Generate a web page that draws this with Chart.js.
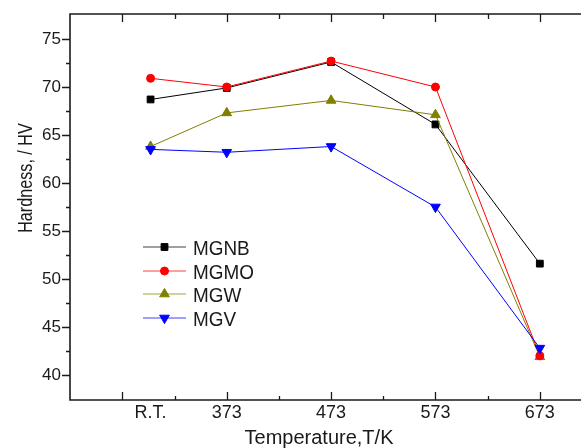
<!DOCTYPE html>
<html>
<head>
<meta charset="utf-8">
<title>Hardness vs temperature</title>
<script src="https://cdn.jsdelivr.net/npm/chart.js@4.4.1/dist/chart.umd.min.js"></script>
<style>
  html, body { margin: 0; padding: 0; overflow: hidden; background: #fff; }
  #wrap { width: 581px; height: 448px; overflow: hidden; }
  canvas { display: block; }
</style>
</head>
<body>
<div id="wrap"><canvas id="hardnessChart" width="620" height="470"></canvas></div>
<script>
// test temperatures in K, room temperature sits near 300 K
var temps = [300, 373, 473, 573, 673];
var tempLabels = ['R.T.', '373', '473', '573', '673'];
var hvTicks = [40, 45, 50, 55, 60, 65, 70, 75];

// Vickers hardness per alloy
var mgnb = [68.7, 69.9, 72.6, 66.1, 51.6];
var mgmo = [70.9, 70.0, 72.7, 70.0, 42.0];
var mgw  = [63.8, 67.3, 68.6, 67.1, 41.9];
var mgv  = [63.5, 63.2, 63.8, 57.5, 42.8];

// tick marks drawn by the frame plugin
var xMajor = [273, 373, 473, 573, 673];
var xMinor = [323, 423, 523, 623];
var yMinor = [42.5, 47.5, 52.5, 57.5, 62.5, 67.5, 72.5];

var FONT = '"Liberation Sans", Arial, Helvetica, sans-serif';
var INK = '#1a1a1a';

Chart.defaults.font.family = FONT;
Chart.defaults.color = INK;

function series(label, values, color, style, radius, rotation, order) {
  return {
    label: label,
    data: values.map(function (v, i) { return { x: temps[i], y: v }; }),
    borderColor: color,
    backgroundColor: color,
    pointBackgroundColor: color,
    pointBorderColor: color,
    pointStyle: style,
    pointRadius: radius,
    pointRotation: rotation,
    pointBorderWidth: 1,
    borderWidth: 1,
    tension: 0,
    order: order
  };
}

// keep the plot box fixed: no extra room for edge labels
function noPadding(scale) {
  scale.paddingTop = 0;
  scale.paddingBottom = 0;
  scale.paddingLeft = 0;
  scale.paddingRight = 0;
}

// axis frame, tick marks, axis titles and the inset legend
var framePlugin = {
  id: 'frame',
  afterDatasetsDraw: function (chart) {
    var ctx = chart.ctx;
    var a = chart.chartArea;
    var xs = chart.scales.x, ys = chart.scales.y;

    ctx.save();
    ctx.strokeStyle = INK;
    ctx.lineWidth = 1.6;
    ctx.beginPath();
    ctx.moveTo(chart.width, a.top);
    ctx.lineTo(a.left, a.top);
    ctx.lineTo(a.left, a.bottom);
    ctx.lineTo(chart.width, a.bottom);
    ctx.stroke();

    ctx.lineWidth = 1.3;
    ctx.beginPath();
    xMajor.forEach(function (v) {
      var px = Math.round(xs.getPixelForValue(v)) + 0.5;
      ctx.moveTo(px, a.bottom); ctx.lineTo(px, a.bottom - 8);
      ctx.moveTo(px, a.top); ctx.lineTo(px, a.top + 8);
    });
    xMinor.forEach(function (v) {
      var px = Math.round(xs.getPixelForValue(v)) + 0.5;
      ctx.moveTo(px, a.bottom); ctx.lineTo(px, a.bottom - 4);
      ctx.moveTo(px, a.top); ctx.lineTo(px, a.top + 5);
    });
    hvTicks.forEach(function (v) {
      var py = Math.round(ys.getPixelForValue(v)) + 0.5;
      ctx.moveTo(a.left, py); ctx.lineTo(a.left - 8, py);
    });
    yMinor.forEach(function (v) {
      var py = Math.round(ys.getPixelForValue(v)) + 0.5;
      ctx.moveTo(a.left, py); ctx.lineTo(a.left - 4, py);
    });
    ctx.stroke();

    // axis titles
    ctx.fillStyle = INK;
    ctx.textAlign = 'center';
    ctx.textBaseline = 'alphabetic';
    ctx.font = '20px ' + FONT;
    ctx.fillText('Temperature,T/K', 319, 444);

    ctx.save();
    ctx.translate(31.5, 178);
    ctx.rotate(-Math.PI / 2);
    ctx.scale(0.77, 1);
    ctx.font = '21px ' + FONT;
    ctx.fillText('Hardness, / HV', 0, 0);
    ctx.restore();

    // legend
    var legendX = 143, rowY = 247, rowStep = 23.6;
    chart.data.datasets.forEach(function (ds, i) {
      var y = Math.round(rowY + i * rowStep);
      ctx.strokeStyle = ds.borderColor;
      ctx.globalAlpha = 0.75;
      ctx.lineWidth = 1;
      ctx.beginPath();
      ctx.moveTo(legendX, y);
      ctx.lineTo(legendX + 43, y);
      ctx.stroke();
      ctx.globalAlpha = 1;
      ctx.fillStyle = ds.pointBackgroundColor;
      ctx.strokeStyle = ds.pointBorderColor;
      Chart.helpers.drawPoint(ctx, {
        pointStyle: ds.pointStyle,
        radius: ds.pointRadius,
        rotation: ds.pointRotation,
        borderWidth: 1
      }, legendX + 21.5, y);

      ctx.save();
      ctx.translate(legendX + 50, y + 8);
      ctx.scale(0.9, 1);
      ctx.fillStyle = INK;
      ctx.textAlign = 'left';
      ctx.font = '21px ' + FONT;
      ctx.fillText(ds.label, 0, 0);
      ctx.restore();
    });
    ctx.restore();
  }
};

var ctx = document.getElementById('hardnessChart').getContext('2d');
var hardnessChart = new Chart(ctx, {
  type: 'line',
  data: {
    datasets: [
      series('MGNB', mgnb, '#000000', 'rect', 4.8, 0, 3),
      series('MGMO', mgmo, '#ff0000', 'circle', 4, 0, 1),
      series('MGW', mgw, '#808000', 'triangle', 5.6, 0, 2),
      series('MGV', mgv, '#0000ff', 'triangle', 5.6, 180, 0)
    ]
  },
  options: {
    responsive: false,
    animation: false,
    layout: { padding: { top: 14, left: 0, right: 0, bottom: 0 } },
    plugins: {
      legend: { display: false },
      tooltip: { enabled: false }
    },
    scales: {
      x: {
        type: 'linear',
        min: 222.8,
        max: 743.5,
        afterBuildTicks: function (scale) {
          scale.ticks = temps.map(function (v) { return { value: v }; });
        },
        afterFit: function (scale) {
          scale.height = 70;
          noPadding(scale);
        },
        grid: { display: false, drawTicks: false },
        border: { display: false },
        ticks: {
          padding: 2,
          autoSkip: false,
          maxRotation: 0,
          font: { size: 18 },
          callback: function (value) {
            return tempLabels[temps.indexOf(value)];
          }
        }
      },
      y: {
        type: 'linear',
        min: 37.4,
        max: 77.6,
        afterBuildTicks: function (scale) {
          scale.ticks = hvTicks.map(function (v) { return { value: v }; });
        },
        afterFit: function (scale) {
          scale.width = 70;
          noPadding(scale);
        },
        grid: { display: false, drawTicks: false },
        border: { display: false },
        ticks: {
          padding: 9,
          font: { size: 17 }
        }
      }
    }
  },
  plugins: [framePlugin]
});
</script>
</body>
</html>
